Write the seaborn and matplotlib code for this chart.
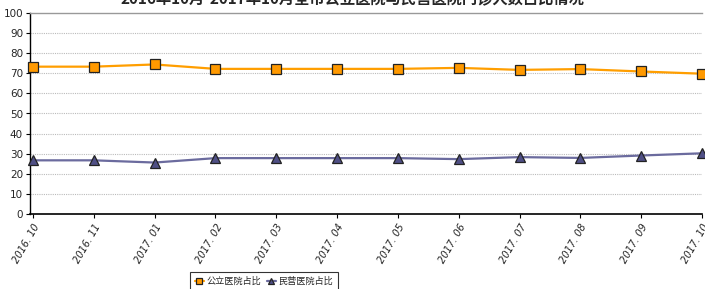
import pandas as pd
import matplotlib
matplotlib.use("Agg")
import matplotlib.pyplot as plt
import seaborn as sns

# data
months = ["2016. 10", "2016. 11", "2017. 01", "2017. 02", "2017. 03", "2017. 04",
          "2017. 05", "2017. 06", "2017. 07", "2017. 08", "2017. 09", "2017. 10"]
public_share = [73.3, 73.3, 74.4, 72.2, 72.2, 72.2, 72.2, 72.7, 71.7, 72.1, 70.9, 69.8]
private_share = [26.7, 26.7, 25.6, 27.8, 27.8, 27.8, 27.8, 27.3, 28.3, 27.9, 29.1, 30.2]
series_names = ["公立医院占比", "民营医院占比"]
title = "2016年10月-2017年10月全市公立医院与民营医院门诊人数占比情况"

sns.set_theme(style="white")
plt.rcParams['font.family'] = ['Noto Sans CJK SC', 'DejaVu Sans']

df = pd.DataFrame({
    "month": months * 2,
    "pos": list(range(len(months))) * 2,
    "share": public_share + private_share,
    "series": [series_names[0]] * len(months) + [series_names[1]] * len(months),
})

fig = plt.figure(figsize=(7.05, 2.89), dpi=100)
ax = fig.add_axes([30 / 705, 75 / 289, 672 / 705, 201 / 289])

palette = {series_names[0]: "#FF9E00", series_names[1]: "#6B6B9E"}
face = {series_names[0]: "#FF9900", series_names[1]: "#4F4F85"}
markers = {series_names[0]: "s", series_names[1]: "^"}
msize = {series_names[0]: 7, series_names[1]: 6.5}

for name in series_names:
    sub = df[df["series"] == name]
    sns.lineplot(data=sub, x="pos", y="share", ax=ax, color=palette[name],
                 linewidth=1.6, marker=markers[name], markersize=msize[name],
                 markerfacecolor=face[name], markeredgecolor="#222222",
                 markeredgewidth=0.9, label=name, clip_on=False, zorder=3)

ax.set_xlim(-0.05, len(months) - 1)
ax.set_ylim(0, 100)
ax.set_yticks(range(0, 101, 10))
ax.set_xticks(range(len(months)))
ax.set_xticklabels(months, rotation=60, ha="right", va="top",
                   rotation_mode="anchor", fontsize=7, style="italic",
                   family="DejaVu Sans")
ax.tick_params(axis="y", labelsize=7.5, length=3, width=0.8, direction="out",
               left=True, pad=2, color="black")
ax.tick_params(axis="x", length=3, width=0.8, direction="out", bottom=True,
               pad=3, color="black")
for lbl in ax.get_yticklabels():
    lbl.set_family("DejaVu Sans")
ax.set_xlabel("")
ax.set_ylabel("")

for y in range(10, 100, 10):
    ax.axhline(y, color="#BBBBBB", linestyle=(0, (1, 1)), linewidth=0.8, zorder=1)

ax.spines["left"].set_color("black")
ax.spines["bottom"].set_color("black")
ax.spines["left"].set_linewidth(1)
ax.spines["bottom"].set_linewidth(1.2)
ax.spines["top"].set_color("#999999")
ax.spines["top"].set_linewidth(1)
ax.spines["right"].set_visible(False)

ax.get_legend().remove()
handles, labels = ax.get_legend_handles_labels()
leg = fig.legend(handles, labels, loc="upper left",
                 bbox_to_anchor=(190 / 705, 1 - 272 / 289), ncol=2,
                 fontsize=6.6, frameon=True, fancybox=False, handlelength=1.0,
                 handletextpad=0.3, columnspacing=0.6, borderpad=0.5,
                 borderaxespad=0, markerscale=0.6)
leg.get_frame().set_edgecolor("black")
leg.get_frame().set_linewidth(0.8)

fig.text(0.5, 1 - 4 / 289, title, ha="center", va="baseline",
         fontsize=11, fontweight="bold")

fig.savefig("out.png", dpi=100)
